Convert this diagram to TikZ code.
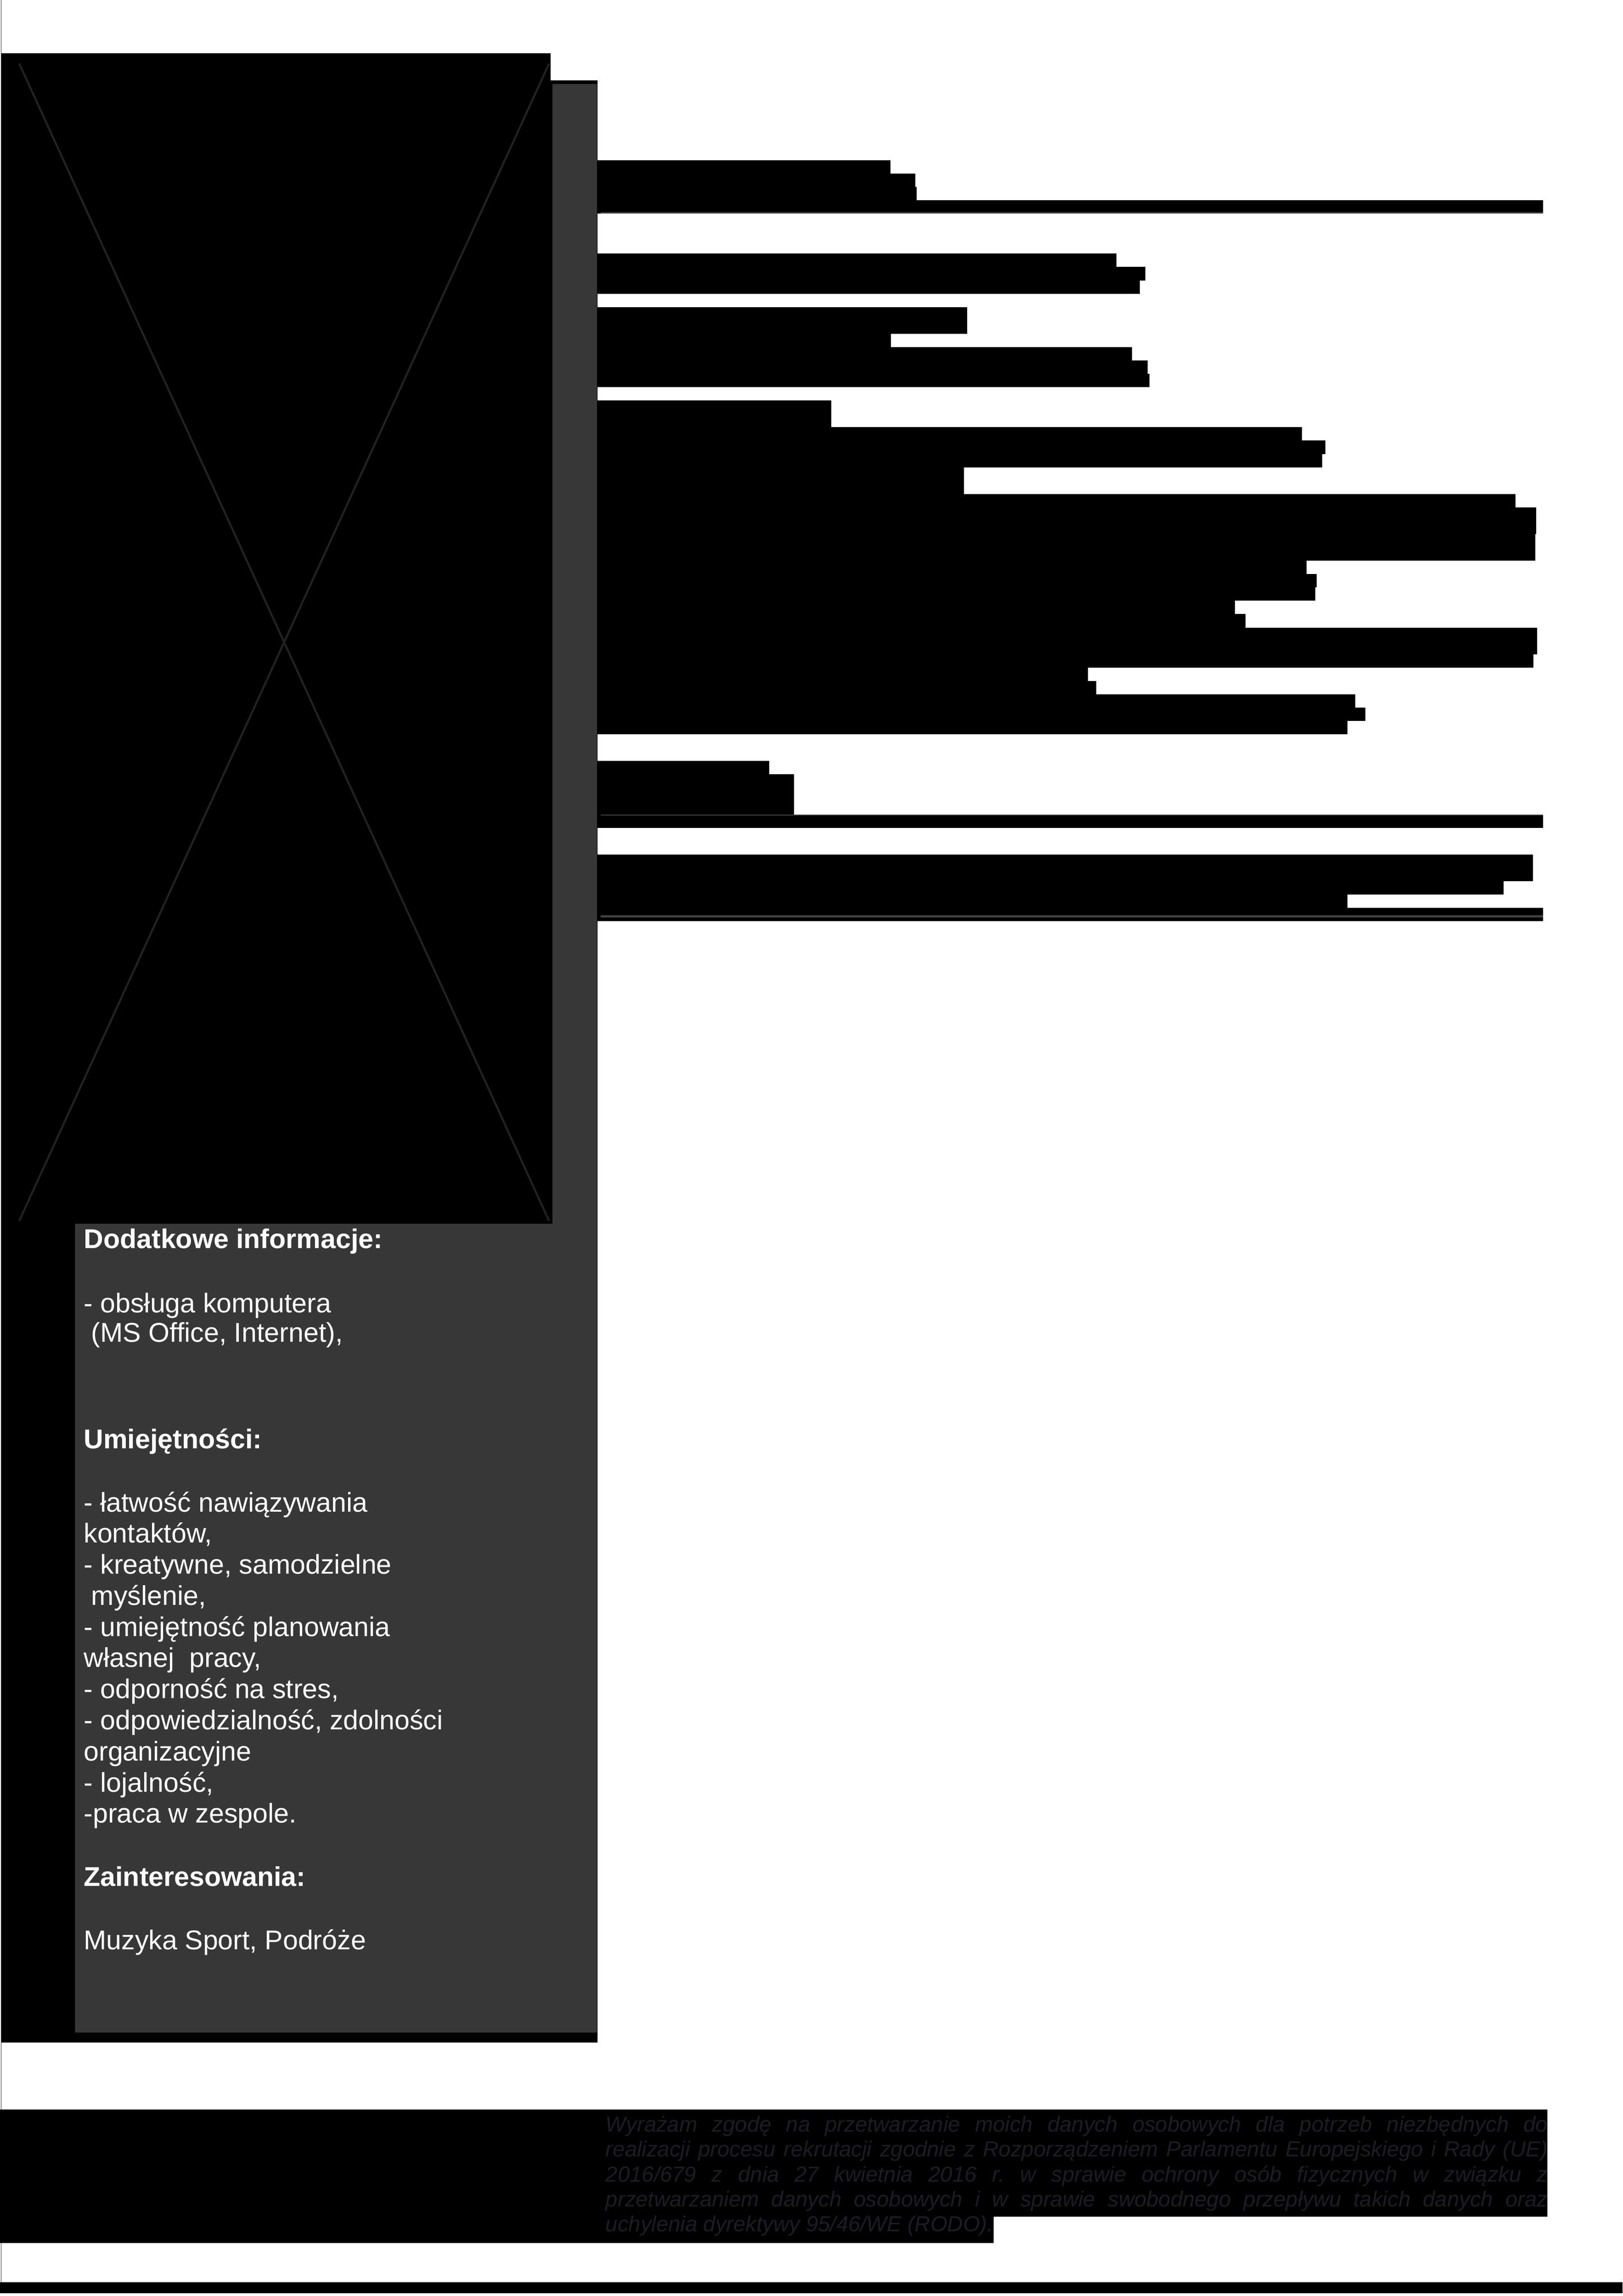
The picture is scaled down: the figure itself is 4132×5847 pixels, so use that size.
\documentclass[tikz,border=0pt]{standalone}
\usepackage{fontspec}
\setmainfont{Liberation Sans}

\definecolor{sidegray}{RGB}{55,55,55}
\definecolor{rulegray}{RGB}{64,64,64}
\definecolor{crossgray}{RGB}{34,34,34}
\definecolor{notegray}{RGB}{28,28,36}

\begin{document}
\begin{tikzpicture}[x={(0.050823mm,0)}, y={(0,-0.050823mm)}, line join=miter,
    sidetext/.style={anchor=base west, inner sep=0pt, text=white, font=\fontsize{10}{12}\selectfont},
    notetext/.style={anchor=base west, inner sep=0pt, text=notegray, text width=121.93mm, align=justify,
        font=\fontsize{8}{9.18}\selectfont\itshape\frenchspacing}]

        \useasboundingbox (0,0) rectangle (4132,5847);

        % page edge
        \draw[black!75, line width=0.07mm] (2.5,0) -- (2.5,5812);

        % sidebar (black back, gray front)
        \fill[black] (4,205) rectangle (1521,5202);
        \fill[sidegray] (1407,214) -- (1520,214) -- (1520,5176) -- (191,5176) -- (191,3116) -- (1407,3116) -- cycle;

        % photo placeholder
        \fill[black] (4,136) rectangle (1402,3116);
        \draw[crossgray, line width=0.254mm] (49,162) -- (1398,3109);
        \draw[crossgray, line width=0.254mm] (1398,162) -- (49,3109);

        % hidden text lines (right column)
        \foreach \r/\a/\b in {2267/408/442, 2330/442/476, 2334/476/510, 3929/510/544,
                              2843/646/680, 2916/680/714, 2902/714/748,
                              2463/782/850, 2269/850/884, 2883/884/918, 2922/918/952, 2927/952/986,
                              2116/1020/1088, 3315/1088/1122, 3375/1122/1156, 3367/1156/1190,
                              2455/1190/1258, 3859/1258/1292, 3912/1292/1360, 3909/1360/1428,
                              3327/1428/1462, 3353/1462/1496, 3349/1496/1530, 3145/1530/1564,
                              3171/1564/1598, 3914/1598/1666, 3904/1666/1700, 2770/1700/1734,
                              2791/1734/1768, 3451/1768/1802, 3476/1802/1836, 3431/1836/1870,
                              1959/1938/1972, 2022/1972/2074, 3929/2074/2108,
                              3903/2176/2244, 3828/2244/2278, 3431/2278/2312, 3929/2312/2346} {
            \fill[black] (1520,\a) rectangle (\r,\b);
        }

        % section rules
        \foreach \a/\b in {540/544, 2074/2077, 2331/2336} {
            \fill[rulegray] (1529,\a) rectangle (3929,\b);
        }

        % sidebar text
        \foreach \y/\t [count=\i] in {3179/{\textbf{Dodatkowe informacje:}},
                                      3343/{- obsługa komputera},
                                      3418/{\ (MS Office, Internet),},
                                      3689/{\textbf{Umiejętności:}},
                                      3850/{- łatwość nawiązywania},
                                      3929/{kontaktów,},
                                      4008/{- kreatywne, samodzielne},
                                      4088/{\ myślenie,},
                                      4167/{- umiejętność planowania},
                                      4246/{własnej\ \ pracy,},
                                      4325/{- odporność na stres,},
                                      4404/{- odpowiedzialność, zdolności},
                                      4484/{organizacyjne},
                                      4563/{- lojalność,},
                                      4642/{-praca w zespole.},
                                      4803/{\textbf{Zainteresowania:}},
                                      4965/{Muzyka Sport, Podróże}} {
            \node[sidetext] (info\i) at (212,\y) {\t};
        }

        % footer (consent clause)
        \fill[black] (0,5372) -- (3940,5372) -- (3940,5645) -- (2530,5645) -- (2530,5712) -- (0,5712) -- cycle;
        \node[notetext] (rodo) at (1541,5429) {%
            \makebox[\linewidth][s]{Wyrażam zgodę na przetwarzanie moich danych osobowych dla potrzeb niezbędnych do}\\
            \makebox[\linewidth][s]{realizacji procesu rekrutacji zgodnie z Rozporządzeniem Parlamentu Europejskiego i Rady (UE)}\\
            \makebox[\linewidth][s]{2016/679 z dnia 27 kwietnia 2016 r. w sprawie ochrony osób fizycznych w związku z}\\
            \makebox[\linewidth][s]{przetwarzaniem danych osobowych i w sprawie swobodnego przepływu takich danych oraz}\\
            uchylenia dyrektywy 95/46/WE (RODO).};

        \fill[black] (0,5812) rectangle (4132,5840);

\end{tikzpicture}
\end{document}
